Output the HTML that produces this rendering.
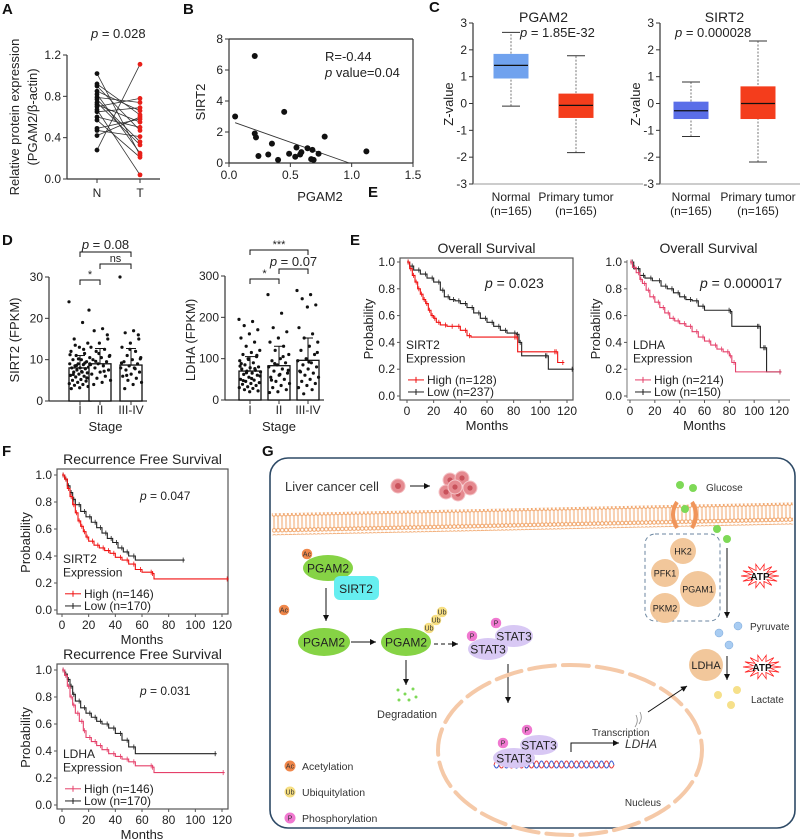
<!DOCTYPE html>
<html><head><meta charset="utf-8"><style>
html,body{margin:0;padding:0;background:#fff;}
svg{display:block;font-family:"Liberation Sans",Arial,sans-serif;}
</style></head><body>
<svg id="fig" width="800" height="840" viewBox="0 0 800 840" xmlns="http://www.w3.org/2000/svg">
<defs>
<pattern id="mem" width="4" height="22" patternUnits="userSpaceOnUse">
<circle cx="2" cy="3" r="1.8" fill="#fff" stroke="#ef9a58" stroke-width="0.9"/>
<circle cx="2" cy="19" r="1.8" fill="#fff" stroke="#ef9a58" stroke-width="0.9"/>
<line x1="1.4" y1="5" x2="1.4" y2="17" stroke="#f3b07c" stroke-width="0.6"/>
<line x1="2.6" y1="5" x2="2.6" y2="17" stroke="#f3b07c" stroke-width="0.6"/>
</pattern>
<marker id="arr" markerWidth="8" markerHeight="8" refX="6" refY="3" orient="auto"><path d="M0,0 L6,3 L0,6 z" fill="#111"/></marker>
</defs>
<g font-weight="bold" font-size="15" fill="#111">
<text x="2" y="14">A</text>
<text x="183" y="14">B</text>
<text x="429" y="12">C</text>
<text x="368" y="197">E</text>
<text x="2" y="245">D</text>
<text x="350" y="245">E</text>
<text x="2" y="456">F</text>
<text x="262" y="456">G</text>
</g>
</svg>
<script>
const NS="http://www.w3.org/2000/svg";
const svg=document.getElementById('fig');
function el(tag,attrs,parent){const e=document.createElementNS(NS,tag);for(const k in attrs)e.setAttribute(k,attrs[k]);(parent||svg).appendChild(e);return e;}
function tx(s,x,y,attrs,parent){const e=el('text',Object.assign({x:x,y:y,'font-size':12,fill:'#222'},attrs||{}),parent);e.textContent=s;return e;}
function lin(d0,d1,r0,r1){return v=>r0+(v-d0)*(r1-r0)/(d1-d0);}

// ---------- DATA ----------
const A_N=[1.02,0.92,0.90,0.85,0.82,0.79,0.77,0.74,0.72,0.70,0.67,0.65,0.60,0.57,0.49,0.47,0.42,0.28];
const A_T=[0.23,0.62,0.47,0.66,0.25,0.74,0.36,0.33,0.55,0.78,0.04,0.69,0.50,0.21,0.58,0.41,0.60,1.11];
const A_ticks=[0,0.4,0.8,1.2];
const B_x=[0.05,0.21,0.21,0.22,0.24,0.32,0.35,0.40,0.45,0.49,0.55,0.54,0.58,0.59,0.64,0.68,0.67,0.69,0.73,0.78,1.12];
const B_y=[3.0,6.9,1.9,1.65,0.45,0.55,1.25,0.2,3.3,0.6,1.0,0.4,0.55,0.7,0.95,0.85,0.25,0.2,0.6,1.7,0.75];
const B_fit=[[0.05,2.6],[0.98,0]];
const B_xticks=[0,0.5,1.0,1.5];
const B_yticks=[0,2,4,6,8];
const C_groups=['Normal','Primary tumor'];
const C_PGAM2=[[-0.1,0.95,1.42,1.83,2.65],[-1.83,-0.52,-0.07,0.35,1.78]];
const C_SIRT2=[[-1.23,-0.56,-0.27,0.05,0.8],[-2.18,-0.56,0.0,0.62,2.33]];
const C_ticks=[-3,-2,-1,0,1,2,3];
const D_stages=['I','II','III-IV'];
const D_SIRT2_mean=[8,9,8.7];
const D_SIRT2_sd=[11,12.7,12.7];
const D_SIRT2_I=[24,19,15,14,13,12,11.5,11,10.5,10,10,9.5,9,9,8.8,8.5,8.2,8,8,7.8,7.5,7.3,7,7,6.8,6.5,6.2,6,5.8,5.5,5.2,5,4.8,4.5,4.2,4,3.8,3.5,3.2,3,9.2,8.6,7.9,7.1,6.4,5.6,10.2,11.2,12.5,13.5];
const D_SIRT2_II=[22,17.5,17,15,14,13,12.5,12,11,10.5,10,9.5,9,9,8.5,8,7.5,7,6.5,6,5.5,5,4.5,4,16,11.5,8.8,7.2,9.6,10.8];
const D_SIRT2_III=[30,17,16.5,15,14,13,12,11,10.5,10,9.5,9,8.5,8,8,7.5,7,6.5,6,5.5,5,4.5,4,3,16,12.5,9.2,7.8,6.2,10.2];
const D_LDHA_mean=[70,83,96];
const D_LDHA_sd=[105,130,150];
const D_LDHA_I=[195,190,180,170,160,150,140,130,120,115,110,105,100,95,90,85,80,78,75,72,70,68,65,62,60,55,50,48,45,42,40,38,35,32,30,28,25,22,20,88,76,66,58,52,47,108,98,82];
const D_LDHA_II=[255,210,175,165,150,140,130,120,110,100,95,90,85,80,75,70,65,60,55,50,45,40,35,30,25,20,18,105,88,72,62,48];
const D_LDHA_III=[265,255,245,230,225,175,160,150,140,130,120,110,100,95,90,85,80,75,70,65,60,55,50,45,40,35,30,25,15,115,92,68];
const D_SIRT2_ticks=[0,10,20,30];
const D_LDHA_ticks=[0,100,200,300];
const KM_xticks=[0,20,40,60,80,100,120];
const KM_yticks=[0,0.2,0.4,0.6,0.8,1.0];
const OS_SIRT2_high=[[0,1],[2,0.95],[4,0.9],[6,0.85],[8,0.8],[10,0.76],[12,0.72],[14,0.69],[16,0.64],[18,0.6],[20,0.58],[22,0.55],[25,0.53],[30,0.52],[35,0.52],[40,0.49],[45,0.45],[48,0.44],[82,0.44],[83,0.33],[112,0.33],[113,0.25],[118,0.25]];
const OS_SIRT2_low=[[0,1],[2,0.97],[5,0.94],[10,0.91],[15,0.88],[20,0.85],[25,0.79],[28,0.74],[32,0.72],[36,0.71],[40,0.69],[45,0.66],[50,0.62],[55,0.58],[60,0.55],[65,0.52],[70,0.49],[75,0.47],[82,0.46],[84,0.4],[86,0.3],[105,0.3],[106,0.2],[125,0.2]];
const OS_LDHA_high=[[0,1],[2,0.96],[5,0.92],[8,0.87],[10,0.84],[13,0.79],[16,0.74],[20,0.7],[24,0.66],[28,0.62],[32,0.58],[36,0.56],[40,0.54],[45,0.52],[50,0.48],[55,0.44],[60,0.41],[65,0.38],[70,0.35],[75,0.33],[80,0.3],[82,0.25],[85,0.18],[122,0.18]];
const OS_LDHA_low=[[0,1],[3,0.95],[8,0.9],[12,0.88],[18,0.86],[25,0.82],[30,0.8],[35,0.77],[40,0.74],[45,0.72],[50,0.71],[55,0.67],[60,0.64],[81,0.63],[82,0.52],[104,0.52],[105,0.36],[109,0.36],[110,0.18],[122,0.18]];
const RFS_SIRT2_high=[[0,1],[2,0.97],[4,0.9],[6,0.84],[8,0.78],[10,0.72],[12,0.66],[14,0.62],[16,0.58],[18,0.54],[20,0.51],[24,0.48],[28,0.46],[32,0.44],[36,0.42],[40,0.39],[45,0.37],[50,0.34],[55,0.3],[60,0.28],[68,0.27],[69,0.23],[125,0.23]];
const RFS_SIRT2_low=[[0,1],[2,0.97],[4,0.92],[6,0.87],[8,0.82],[10,0.78],[14,0.73],[18,0.69],[22,0.65],[26,0.61],[30,0.57],[34,0.53],[38,0.5],[42,0.46],[46,0.43],[50,0.4],[55,0.37],[92,0.37]];
const RFS_LDHA_high=[[0,1],[2,0.96],[4,0.88],[6,0.8],[8,0.74],[10,0.68],[13,0.62],[16,0.55],[18,0.5],[22,0.47],[26,0.44],[30,0.41],[35,0.38],[40,0.36],[45,0.34],[50,0.32],[55,0.29],[68,0.28],[69,0.24],[122,0.24]];
const RFS_LDHA_low=[[0,1],[2,0.97],[4,0.93],[6,0.88],[8,0.82],[10,0.77],[14,0.72],[18,0.68],[22,0.65],[26,0.62],[30,0.6],[35,0.57],[40,0.53],[45,0.48],[50,0.43],[55,0.38],[116,0.38]];

function yAxis(g,x,sc,ticks,fmt,y1){
  const a=el('line',{x1:x,x2:x,y1:sc(ticks[0]),y2:y1!==undefined?y1:sc(ticks[ticks.length-1]),stroke:'#333','stroke-width':1.2},g);
  
  
  ticks.forEach(t=>{
    el('line',{x1:x-4,x2:x,y1:sc(t),y2:sc(t),stroke:'#333'},g);
    const l=tx(fmt(t),x-6,sc(t)+4,{'text-anchor':'end','font-size':12},g);
    
    
  });
}
function xAxis(g,y,sc,ticks,fmt,x0,x1){
  const a=el('line',{x1:x0,x2:x1,y1:y,y2:y,stroke:'#333','stroke-width':1.2},g);
  
  
  ticks.forEach(t=>{
    el('line',{x1:sc(t),x2:sc(t),y1:y,y2:y+4,stroke:'#333'},g);
    const l=tx(fmt(t),sc(t),y+16,{'text-anchor':'middle','font-size':12},g);
    
    
  });
}
function ptext(g,x,y,rest,size,anchor){
  const t=el('text',{x:x,y:y,'font-size':size||13,fill:'#222','text-anchor':anchor||'start'},g);
  const i=el('tspan',{'font-style':'italic'},t);i.textContent='p';
  const r=el('tspan',{},t);r.textContent=rest;
  return t;
}
function vtitle(g,s,x,y,size){const t=tx(s,x,y,{transform:`rotate(-90 ${x} ${y})`,'text-anchor':'middle','font-size':size||13},g);return t;}

// ---------- Panel A ----------
const gA=el('g',{});
const yA=lin(0,1.2,179,55);
yAxis(gA,67,yA,A_ticks,v=>v.toFixed(1));
el('line',{x1:67,x2:160,y1:179,y2:179,stroke:'#333','stroke-width':1.2},gA);
[[97,'N'],[140,'T']].forEach(([x,s])=>{el('line',{x1:x,x2:x,y1:179,y2:183,stroke:'#333'},gA);const l=tx(s,x,197,{'text-anchor':'middle'},gA);});
A_N.forEach((v,i)=>{const ln=el('line',{x1:97,y1:yA(v),x2:140,y2:yA(A_T[i]),stroke:'#333','stroke-width':0.8},gA);});
A_N.forEach(v=>{const c=el('circle',{cx:97,cy:yA(v),r:2.4,fill:'#111'},gA);});
A_T.forEach(v=>{const c=el('circle',{cx:140,cy:yA(v),r:2.4,fill:'#e8201a'},gA);});
ptext(gA,91,38,' = 0.028',13);
vtitle(gA,'Relative protein expression',19,117,13);
vtitle(gA,'(PGAM2/β-actin)',37,117,13);

// ---------- Panel B ----------
const gB=el('g',{});
const xB=lin(0,1.5,229,413),yB=lin(0,8,163,39);
yAxis(gB,229,yB,B_yticks,v=>String(v));
xAxis(gB,163,xB,B_xticks,v=>v.toFixed(1),229,413);
el('line',{x1:229,x2:413,y1:39,y2:39,stroke:'#333','stroke-width':1.2},gB);
el('line',{x1:413,x2:413,y1:39,y2:163,stroke:'#333','stroke-width':1.2},gB);
const fit=el('line',{x1:xB(B_fit[0][0]),y1:yB(B_fit[0][1]),x2:xB(B_fit[1][0]),y2:yB(B_fit[1][1]),stroke:'#333','stroke-width':0.9},gB);

B_x.forEach((v,i)=>{const c=el('circle',{cx:xB(v),cy:yB(B_y[i]),r:3,fill:'#111'},gB);});
tx('R=-0.44',325,61,{'font-size':13},gB);
ptext(gB,325,77,' value=0.04',13);
tx('PGAM2',320,201,{'text-anchor':'middle','font-size':13},gB);
vtitle(gB,'SIRT2',205,102,13);

// ---------- Panel C ----------
function boxplot(name,ax,title,ptxt,px,data,colors,cx){
  const g=el('g',{});
  const y=lin(-3,3,184,23);
  yAxis(g,ax,y,C_ticks,v=>String(v));
  el('line',{x1:ax,x2:ax+170,y1:184,y2:184,stroke:'#999','stroke-width':1},g);
  data.forEach((d,i)=>{
    const x=cx[i];
    el('line',{x1:x,x2:x,y1:y(d[0]),y2:y(d[4]),stroke:'#555','stroke-dasharray':'2,1.5','stroke-width':0.8},g);
    el('line',{x1:x-9,x2:x+9,y1:y(d[0]),y2:y(d[0]),stroke:'#333'},g);
    el('line',{x1:x-9,x2:x+9,y1:y(d[4]),y2:y(d[4]),stroke:'#333'},g);
    const b=el('rect',{x:x-17,y:y(d[3]),width:34,height:y(d[1])-y(d[3]),fill:colors[i],stroke:colors[i]},g);
    
    el('line',{x1:x-17,x2:x+17,y1:y(d[2]),y2:y(d[2]),stroke:'#111','stroke-width':1.3},g);
    tx(C_groups[i],x,201,{'text-anchor':'middle','font-size':12},g);
    tx('(n=165)',x,215,{'text-anchor':'middle','font-size':12},g);
  });
  tx(title,(cx[0]+cx[1])/2,22,{'text-anchor':'middle','font-size':14},g);
  ptext(g,px,37,ptxt,13);
  vtitle(g,'Z-value',ax-20,104,13);
}
boxplot('panel-c-pgam2-box',473,'PGAM2',' = 1.85E-32',520,C_PGAM2,['#70a2ee','#f43d1c'],[511,576]);
boxplot('panel-c-sirt2-box',660,'SIRT2',' = 0.000028',675,C_SIRT2,['#5a6ee8','#f43d1c'],[691,758]);

// ---------- Panel D ----------
function barDots(name,ax,y,ticks,means,sds,groups,xs,title,brackets){
  const g=el('g',{});
  yAxis(g,ax,y,ticks,v=>String(v));
  el('line',{x1:ax,x2:xs[2]+16,y1:y(0),y2:y(0),stroke:'#333','stroke-width':1.2},g);
  means.forEach((m,i)=>{
    const b=el('rect',{x:xs[i]-11,y:y(m),width:22,height:y(0)-y(m),fill:'#fff',stroke:'#111','stroke-width':1.3},g);
    
    groups[i].forEach((v,j)=>{
      const jx=(((j*0.6180339)%1)-0.5)*22;
      const c=el('circle',{cx:xs[i]+jx,cy:y(v),r:1.6,fill:'#111'},g);
      
    });
    el('line',{x1:xs[i],x2:xs[i],y1:y(m),y2:y(sds[i]),stroke:'#111','stroke-width':1},g);
    el('line',{x1:xs[i]-5,x2:xs[i]+5,y1:y(sds[i]),y2:y(sds[i]),stroke:'#111','stroke-width':1},g);
    el('line',{x1:xs[i],x2:xs[i],y1:y(0),y2:y(0)+4,stroke:'#333'},g);
    tx(D_stages[i],xs[i],414,{'text-anchor':'middle','font-size':12},g);
  });
  tx('Stage',(xs[0]+xs[2])/2,431,{'text-anchor':'middle','font-size':13},g);
  vtitle(g,title,ax-30,340,13);
  brackets.forEach(([a,b,yy,lab,isP])=>{
    el('path',{d:`M${xs[a]},${yy+5} V${yy} H${xs[b]} V${yy+5}`,fill:'none',stroke:'#111','stroke-width':1},g);
    if(isP) ptext(g,(xs[a]+xs[b])/2,yy-3,lab,13,'middle'); else tx(lab,(xs[a]+xs[b])/2,yy-2,{'text-anchor':'middle','font-size':11},g);
  });
}
barDots('panel-d-sirt2-bars',49,lin(0,30,401,277),D_SIRT2_ticks,D_SIRT2_mean,D_SIRT2_sd,[D_SIRT2_I,D_SIRT2_II,D_SIRT2_III],[80,100,131],'SIRT2 (FPKM)',[[0,2,252,' = 0.08',true],[1,2,264,'ns',false],[0,1,280,'*',false]]);
barDots('panel-d-ldha-bars',225,lin(0,300,400,276),D_LDHA_ticks,D_LDHA_mean,D_LDHA_sd,[D_LDHA_I,D_LDHA_II,D_LDHA_III],[250,279,308],'LDHA (FPKM)',[[0,2,250,'***',false],[1,2,269,' = 0.07',true],[0,1,279,'*',false]]);

// ---------- KM ----------
function km(name,o){
  const g=el('g',{});
  const x=lin(0,120,o.x0,o.x1),y=lin(0,1,o.yb,o.yt);
  if(o.frame){const f=el('rect',{x:o.fl,y:o.ft,width:o.fr-o.fl,height:o.fb-o.ft,fill:'none',stroke:'#555','stroke-width':1.2},g);}
  else{el('line',{x1:o.fl,x2:o.fl,y1:y(0)+2,y2:y(1)-2,stroke:'#777'},g);el('line',{x1:o.fl,x2:o.fr,y1:o.fb,y2:o.fb,stroke:'#777'},g);}
  KM_yticks.forEach(t=>{el('line',{x1:o.fl-3,x2:o.fl,y1:y(t),y2:y(t),stroke:'#555'},g);const l=tx(t.toFixed(1),o.fl-5,y(t)+4,{'text-anchor':'end','font-size':12},g);});
  KM_xticks.forEach(t=>{el('line',{x1:x(t),x2:x(t),y1:o.fb,y2:o.fb+3,stroke:'#555'},g);const l=tx(String(t),x(t),o.fb+15,{'text-anchor':'middle','font-size':12},g);});
  [[o.low,'#222'],[o.high,o.hc]].forEach(([pts,c])=>{
    let d=`M${x(pts[0][0])},${y(pts[0][1])}`;
    for(let i=1;i<pts.length;i++)d+=` H${x(pts[i][0])} V${y(pts[i][1])}`;
    const p=el('path',{d:d,fill:'none',stroke:c,'stroke-width':1.1},g);
    
    pts.forEach((q,i)=>{if(i>0){const m=el('line',{x1:x(q[0])-1.5,x2:x(q[0])-1.5,y1:y(pts[i-1][1])-2.5,y2:y(pts[i-1][1])+2.5,stroke:c,'stroke-width':0.8},g);}});
  });
  tx(o.title,(o.fl+o.fr)/2,o.ft-5,{'text-anchor':'middle','font-size':14},g);
  ptext(g,o.px,o.py,o.ptxt,o.ps||14);
  vtitle(g,'Probability',o.fl-27,y(0.5),13);
  tx('Months',(x(0)+x(120))/2,o.fb+30,{'text-anchor':'middle','font-size':13},g);
  const lx=o.fl+6;
  tx(o.gene,lx,y(0.35),{'font-size':12},g);
  tx('Expression',lx,y(0.25),{'font-size':12},g);
  el('line',{x1:lx+2,x2:lx+18,y1:y(0.12),y2:y(0.12),stroke:o.hc},g);el('line',{x1:lx+10,x2:lx+10,y1:y(0.12)-3,y2:y(0.12)+3,stroke:o.hc},g);
  tx(o.hl,lx+21,y(0.12)+4,{'font-size':12},g);
  el('line',{x1:lx+2,x2:lx+18,y1:y(0.03),y2:y(0.03),stroke:'#222'},g);el('line',{x1:lx+10,x2:lx+10,y1:y(0.03)-3,y2:y(0.03)+3,stroke:'#222'},g);
  tx(o.ll,lx+21,y(0.03)+4,{'font-size':12},g);
}
km('panel-e-os-sirt2',{x0:407,x1:567,yb:396,yt:262,frame:true,fl:400,fr:573,ft:258,fb:400,high:OS_SIRT2_high,low:OS_SIRT2_low,hc:'#f01010',title:'Overall Survival',ptxt:' = 0.023',px:485,py:288,gene:'SIRT2',hl:'High (n=128)',ll:'Low  (n=237)'});
km('panel-e-os-ldha',{x0:630,x1:779,yb:396,yt:262,frame:false,fl:627,fr:790,ft:258,fb:400,high:OS_LDHA_high,low:OS_LDHA_low,hc:'#e5406a',title:'Overall Survival',ptxt:' = 0.000017',px:700,py:288,gene:'LDHA',hl:'High (n=214)',ll:'Low  (n=150)'});
km('panel-f-rfs-sirt2',{x0:62,x1:222,yb:610,yt:475,frame:true,fl:57,fr:228,ft:469,fb:614,high:RFS_SIRT2_high,low:RFS_SIRT2_low,hc:'#f01010',title:'Recurrence Free Survival',ptxt:' = 0.047',px:140,py:500,ps:12,gene:'SIRT2',hl:'High (n=146)',ll:'Low (n=170)'});
km('panel-f-rfs-ldha',{x0:62,x1:222,yb:805,yt:670,frame:true,fl:57,fr:228,ft:664,fb:809,high:RFS_LDHA_high,low:RFS_LDHA_low,hc:'#e5406a',title:'Recurrence Free Survival',ptxt:' = 0.031',px:140,py:695,ps:12,gene:'LDHA',hl:'High (n=146)',ll:'Low (n=170)'});

// ---------- Panel G ----------
const gG=el('g',{});
const cell=el('rect',{x:270,y:458,width:525,height:370,rx:18,fill:'#fff',stroke:'#2e4a66','stroke-width':1.6},gG);

const mem=el('rect',{x:272,y:508,width:521,height:22,fill:'url(#mem)',transform:'rotate(-1.2 530 518)'},gG);

tx('Liver cancer cell',285,491,{'font-size':13,fill:'#333'},gG);
el('circle',{cx:398,cy:486,r:7,fill:'#e58a90',stroke:'#f2b8bb'},gG);el('circle',{cx:398,cy:486,r:3,fill:'#c9525b'},gG);
el('line',{x1:410,y1:486,x2:430,y2:486,stroke:'#111','marker-end':'url(#arr)'},gG);
[[450,480],[462,478],[446,492],[458,494],[470,488],[455,487]].forEach(([a,b])=>{el('circle',{cx:a,cy:b,r:7,fill:'#e58a90',stroke:'#f5c5c8'},gG);el('circle',{cx:a,cy:b,r:2.6,fill:'#c9525b'},gG);});
el('path',{d:'M677,502 q-8,12 0,26',fill:'none',stroke:'#f0955a','stroke-width':4},gG);
el('path',{d:'M692,502 q8,12 0,26',fill:'none',stroke:'#f0955a','stroke-width':4},gG);
[[680,485],[693,488],[685,509],[717,529],[727,539]].forEach(([a,b])=>el('circle',{cx:a,cy:b,r:4,fill:'#7ed957'},gG));
tx('Glucose',706,491,{'font-size':10,fill:'#333'},gG);
function bubble(cx,cy,rx,ry,fill,label,fs){el('ellipse',{cx:cx,cy:cy,rx:rx,ry:ry,fill:fill},gG);if(label)tx(label,cx,cy+fs*0.38,{'text-anchor':'middle','font-size':fs,fill:'#222'},gG);}
function mod(cx,cy,fill,label){el('circle',{cx:cx,cy:cy,r:5.5,fill:fill,stroke:'#fff','stroke-width':0.5},gG);tx(label,cx,cy+2.5,{'text-anchor':'middle','font-size':7,fill:'#333'},gG);}
mod(307,554,'#f0874a','Ac');
bubble(328,568,25,13,'#86d345','PGAM2',12);
el('rect',{x:334,y:576,width:45,height:24,rx:6,fill:'#66eef0'},gG);tx('SIRT2',356,593,{'text-anchor':'middle','font-size':12},gG);
mod(284,610,'#f0874a','Ac');
el('line',{x1:326,y1:588,x2:326,y2:621,stroke:'#111','marker-end':'url(#arr)'},gG);
bubble(324,642,26,14,'#86d345','PGAM2',12);
el('line',{x1:351,y1:642,x2:376,y2:642,stroke:'#111','marker-end':'url(#arr)'},gG);
bubble(406,642,25,14,'#86d345','PGAM2',12);
mod(429,628,'#f6de80','Ub');mod(436,620,'#f6de80','Ub');mod(442,612,'#f6de80','Ub');
el('line',{x1:434,y1:644,x2:458,y2:644,stroke:'#111','stroke-dasharray':'4,3','marker-end':'url(#arr)'},gG);
bubble(514,636,19,11,'#d8c8f4','STAT3',12);bubble(488,649,20,11,'#d8c8f4','STAT3',12);
mod(496,623,'#f078d0','P');mod(472,636,'#f078d0','P');
el('line',{x1:406,y1:660,x2:406,y2:685,stroke:'#111','marker-end':'url(#arr)'},gG);
[[398,690],[405,694],[413,689],[399,700],[409,700],[416,697]].forEach(([a,b])=>el('circle',{cx:a,cy:b,r:1.5,fill:'#7ed957'},gG));
tx('Degradation',407,718,{'text-anchor':'middle','font-size':11,fill:'#333'},gG);
el('line',{x1:508,y1:664,x2:508,y2:703,stroke:'#111','marker-end':'url(#arr)'},gG);
const nuc=el('ellipse',{cx:570,cy:750,rx:132,ry:85,fill:'none',stroke:'#f5c9a8','stroke-width':4,'stroke-dasharray':'26,8','stroke-linecap':'round'},gG);

tx('Nucleus',643,806,{'text-anchor':'middle','font-size':10,fill:'#333'},gG);
let dna1='M494,765',dna2='M494,765';for(let i=0;i<24;i++){const xx=494+i*5;dna1+=` Q${xx+2.5},${i%2?771:757} ${xx+5},765`;dna2+=` Q${xx+2.5},${i%2?757:771} ${xx+5},765`;}
el('path',{d:dna1,fill:'none',stroke:'#e53d3d','stroke-width':1},gG);el('path',{d:dna2,fill:'none',stroke:'#3a58d0','stroke-width':1},gG);
bubble(539,745,19,10,'#d8c8f4','STAT3',12);bubble(514,758,21,10,'#d8c8f4','STAT3',12);
mod(527,730,'#f078d0','P');mod(503,743,'#f078d0','P');
tx('Transcription',592,736,{'font-size':10,fill:'#333'},gG);
el('path',{d:'M571,752 V743 H619',fill:'none',stroke:'#111','marker-end':'url(#arr)'},gG);
tx('LDHA',625,748,{'font-size':12,'font-style':'italic',fill:'#333'},gG);
el('path',{d:'M636,715 q3,6 -1,12 M640,712 q3,6 -1,12',fill:'none',stroke:'#888','stroke-width':0.8},gG);
el('line',{x1:648,y1:712,x2:687,y2:686,stroke:'#111','marker-end':'url(#arr)'},gG);
el('rect',{x:645,y:534,width:75,height:87,rx:10,fill:'none',stroke:'#6b86a0','stroke-dasharray':'4,3'},gG);
bubble(683,551,13,13,'#f2c79b','HK2',9);bubble(665,573,14,14,'#f2c79b','PFK1',9);bubble(698,589,18,18,'#f2c79b','PGAM1',9);bubble(665,608,15,15,'#f2c79b','PKM2',9);
el('line',{x1:727,y1:548,x2:727,y2:618,stroke:'#111','marker-end':'url(#arr)'},gG);
function star(cx,cy){let d='';for(let i=0;i<28;i++){const a=i*Math.PI/14,r=i%2?9:19,ry=i%2?6:12;d+=(i?'L':'M')+(cx+r*Math.cos(a)).toFixed(1)+','+(cy+ry*Math.sin(a)).toFixed(1);}el('path',{d:d+'z',fill:'#fff',stroke:'#f22','stroke-width':0.8},gG);tx('ATP',cx,cy+4,{'text-anchor':'middle','font-size':10,'font-weight':'bold',fill:'#111'},gG);}
star(760,576);star(762,667);
[[738,626],[719,633],[729,645]].forEach(([a,b])=>el('circle',{cx:a,cy:b,r:4,fill:'#a8ccf2',stroke:'#7aa6d8','stroke-width':0.5},gG));
tx('Pyruvate',750,630,{'font-size':10,fill:'#333'},gG);
bubble(706,665,17,16,'#f2c79b','LDHA',11);
el('line',{x1:727,y1:656,x2:727,y2:680,stroke:'#111','marker-end':'url(#arr)'},gG);
[[718,695],[737,690],[731,705]].forEach(([a,b])=>el('circle',{cx:a,cy:b,r:4,fill:'#f6e08a'},gG));
tx('Lactate',751,703,{'font-size':10,fill:'#333'},gG);
[['#f0874a','Ac','Acetylation'],['#f6de80','Ub','Ubiquitylation'],['#f078d0','P','Phosphorylation']].forEach(([c,s,l],i)=>{const y0=[770,796,822][i];el('circle',{cx:290,cy:y0-4,r:5.5,fill:c},gG);tx(s,290,y0-1.5,{'text-anchor':'middle','font-size':7,fill:'#333'},gG);const t=tx(l,302,y0,{'font-size':10.5,fill:'#333'},gG);});
</script>
</body></html>
